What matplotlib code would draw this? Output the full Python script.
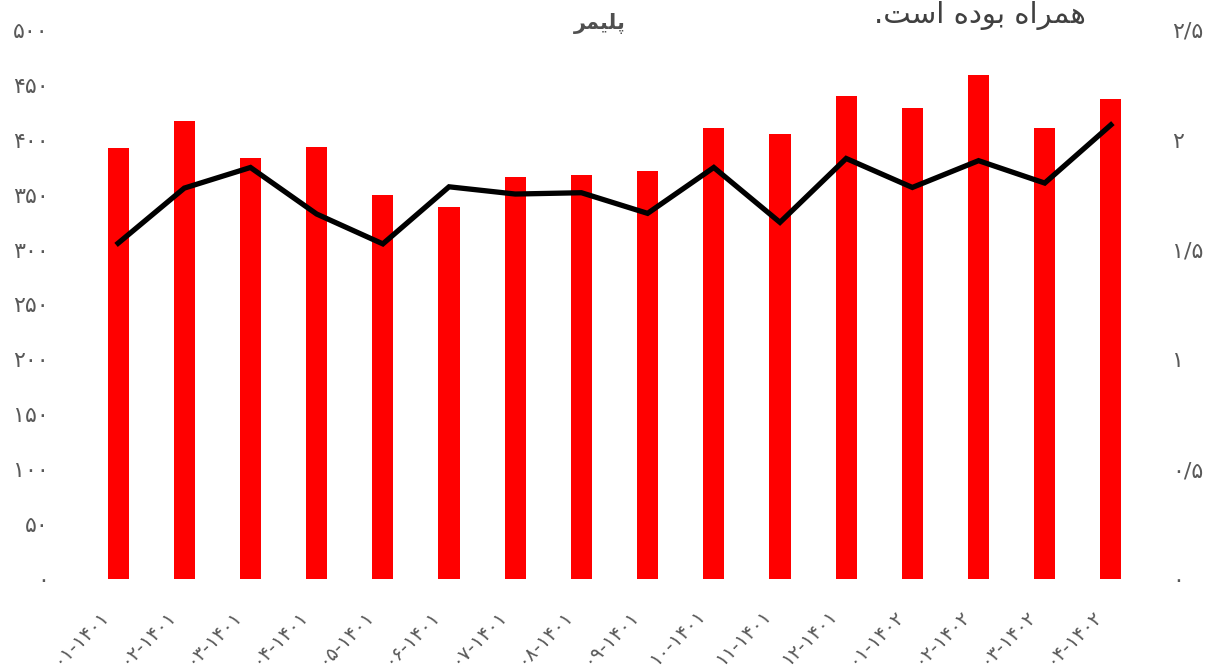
import matplotlib
matplotlib.use("Agg")
import matplotlib.pyplot as plt
from matplotlib.transforms import ScaledTranslation

categories = ["۰۱-۱۴۰۱", "۰۲-۱۴۰۱", "۰۳-۱۴۰۱", "۰۴-۱۴۰۱", "۰۵-۱۴۰۱", "۰۶-۱۴۰۱",
              "۰۷-۱۴۰۱", "۰۸-۱۴۰۱", "۰۹-۱۴۰۱", "۱۰-۱۴۰۱", "۱۱-۱۴۰۱", "۱۲-۱۴۰۱",
              "۰۱-۱۴۰۲", "۰۲-۱۴۰۲", "۰۳-۱۴۰۲", "۰۴-۱۴۰۲"]
bar_values = [392.5, 417.5, 383.6, 393.6, 349.7, 339, 366, 367.5, 371.5, 411,
              405.7, 440, 428.8, 459.4, 410.3, 437.5]
line_values = [1.529, 1.780, 1.874, 1.662, 1.526, 1.786, 1.753, 1.759, 1.665,
               1.874, 1.624, 1.915, 1.783, 1.905, 1.803, 2.068]
left_ticks = [0, 50, 100, 150, 200, 250, 300, 350, 400, 450, 500]
left_tick_labels = ["۰", "۵۰", "۱۰۰", "۱۵۰", "۲۰۰", "۲۵۰", "۳۰۰", "۳۵۰", "۴۰۰", "۴۵۰", "۵۰۰"]
right_ticks = [0, 0.5, 1, 1.5, 2, 2.5]
right_tick_labels = ["۰", "۰/۵", "۱", "۱/۵", "۲", "۲/۵"]
# Arabic-script strings in presentation forms, visual order (matplotlib has no shaping)
title_text = "\uFEAE\uFEE4\uFBFF\uFEE0\uFB58"  # پلیمر
top_text = ".\uFE96\uFEB3\uFE8D \uFEE9\uFEA9\uFEEE\uFE91 \uFEE9\uFE8D\uFEAE\uFEE4\uFEEB"  # همراه بوده است.

plt.rcParams['font.family'] = ['DejaVu Sans']
W, H = 1213, 669
fig = plt.figure(figsize=(W / 100, H / 100), dpi=100)
left, right, top, bottom = 85, 1144, 30, 579
ax = fig.add_axes([left / W, 1 - bottom / H, (right - left) / W, (bottom - top) / H])
ax2 = ax.twinx()

x = list(range(len(categories)))
ax.bar(x, bar_values, width=0.32, color="#FF0000", zorder=2)
ax2.plot(x, line_values, color="black", lw=3.8, solid_joinstyle="miter", zorder=3)

ax.set_xlim(-0.5, len(categories) - 0.5)
ax.set_ylim(0, 500)
ax2.set_ylim(0, 2.5)

gray = "#595959"
fs = 16
ax.set_yticks(left_ticks)
ax.set_yticklabels(left_tick_labels, fontsize=fs, color=gray)
ax2.set_yticks(right_ticks)
ax2.set_yticklabels(right_tick_labels, fontsize=fs, color=gray)
ax.tick_params(axis='y', length=0, pad=26)
ax2.tick_params(axis='y', length=0, pad=20)

ax.set_xticks(x)
ax.set_xticklabels(categories, fontsize=14, color=gray, rotation=45,
                   ha='right', va='center', rotation_mode='anchor')
ax.tick_params(axis='x', length=0, pad=24)
off = ScaledTranslation(-12 / 100, 0, fig.dpi_scale_trans)
for lab in ax.get_xticklabels():
    lab.set_transform(lab.get_transform() + off)

for a in (ax, ax2):
    for s in a.spines.values():
        s.set_visible(False)

fig.text(600 / W, 1 - 24 / H, title_text, fontsize=15, fontweight='bold', color="#505050",
         ha='center', va='center')
fig.text(1086 / W, 1 - 1 / H, top_text, fontsize=21, color="#404040",
         ha='right', va='top')

fig.savefig("out.png", dpi=100)
